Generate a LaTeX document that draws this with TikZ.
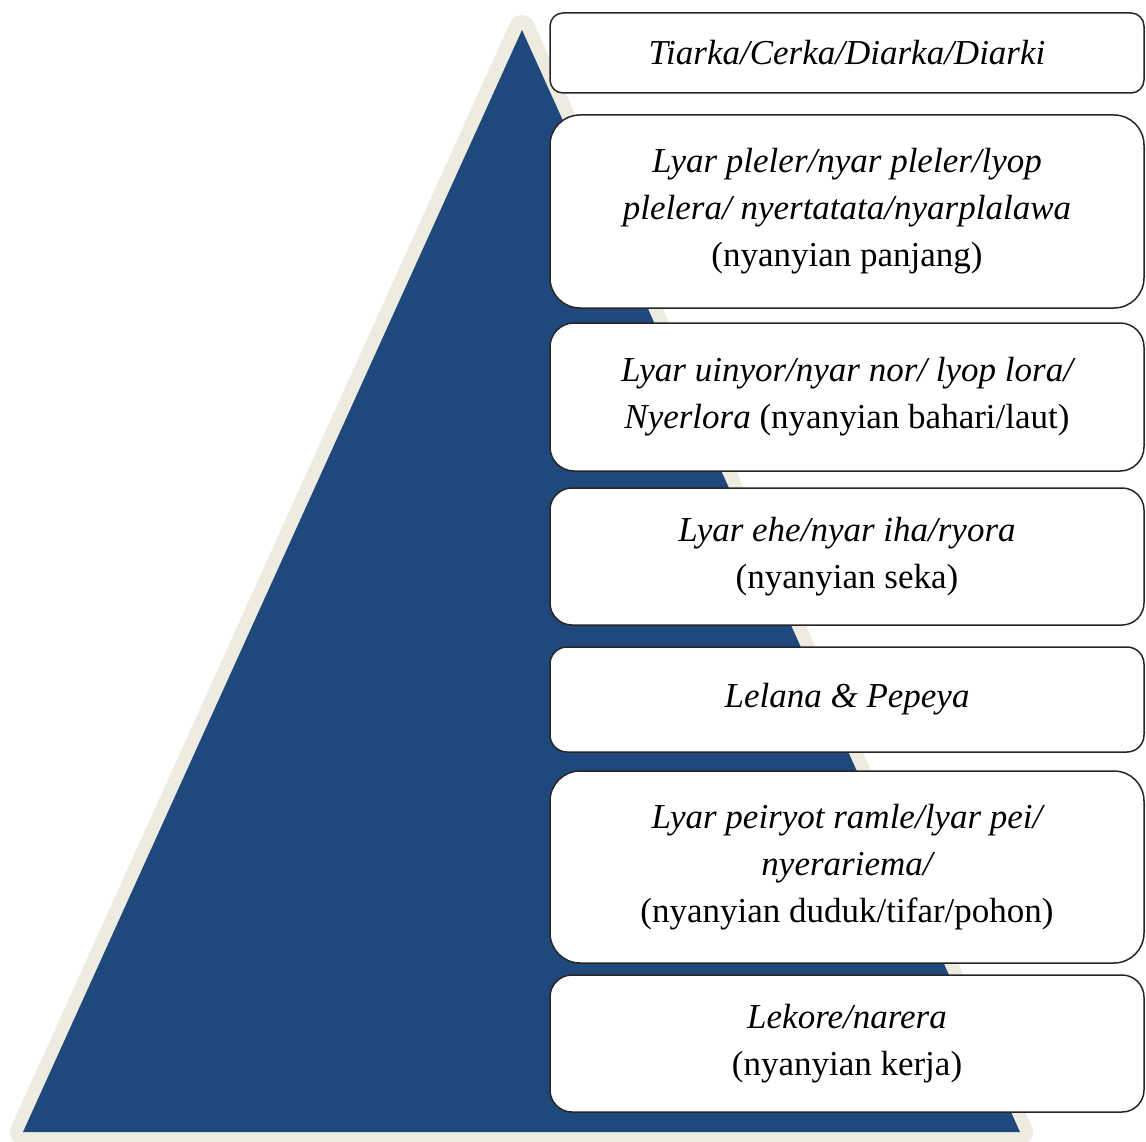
\documentclass[tikz,border=0pt]{standalone}
\usepackage{fontspec}
\setmainfont{Liberation Serif}
\definecolor{pyrblue}{HTML}{1F497D}
\definecolor{pyrbeige}{HTML}{EEECE1}
\tikzset{
  tier/.style={draw=black!85, line width=1.5pt, fill=white, rounded corners=22pt,
    minimum width=594pt, align=center, inner sep=0pt,
    font=\fontsize{35}{47}\selectfont}
}

\begin{document}
\begin{tikzpicture}[x=1pt,y=-1pt]
  \useasboundingbox (0,0) rectangle (1146,1142);
  \draw[pyrbeige, fill=pyrbeige, line width=26pt, line join=round] (522,28) -- (23,1132) -- (1020,1132) -- cycle;
  \fill[pyrblue] (522,30) -- (23,1132) -- (1020,1132) -- cycle;
  \node[tier, rounded corners=13pt, minimum height=80pt] (tiarka) at (847,53) {\itshape Tiarka/Cerka/Diarka/Diarki};
  \node[tier, rounded corners=30pt, minimum height=193pt] (pleler) at (847,211.5) {\itshape Lyar pleler/nyar pleler/lyop\\ \itshape plelera/ nyertatata/nyarplalawa\\ (nyanyian panjang)};
  \node[tier, rounded corners=24pt, minimum height=148pt] (uinyor) at (847,397) {\itshape Lyar uinyor/nyar nor/ lyop lora/\\ \textit{Nyerlora} (nyanyian bahari/laut)};
  \node[tier, minimum height=137pt] (ehe) at (847,556.5) {\itshape Lyar ehe/nyar iha/ryora\\ (nyanyian seka)};
  \node[tier, rounded corners=17pt, minimum height=105pt] (lelana) at (847,699.5) {\itshape Lelana \& Pepeya};
  \node[tier, rounded corners=30pt, minimum height=192pt] (peiryot) at (847,867) {\itshape Lyar peiryot ramle/lyar pei/\\ \itshape nyerariema/\\ (nyanyian duduk/tifar/pohon)};
  \node[tier, minimum height=137pt] (lekore) at (847,1043.5) {\itshape Lekore/narera\\ (nyanyian kerja)};
\end{tikzpicture}
\end{document}
